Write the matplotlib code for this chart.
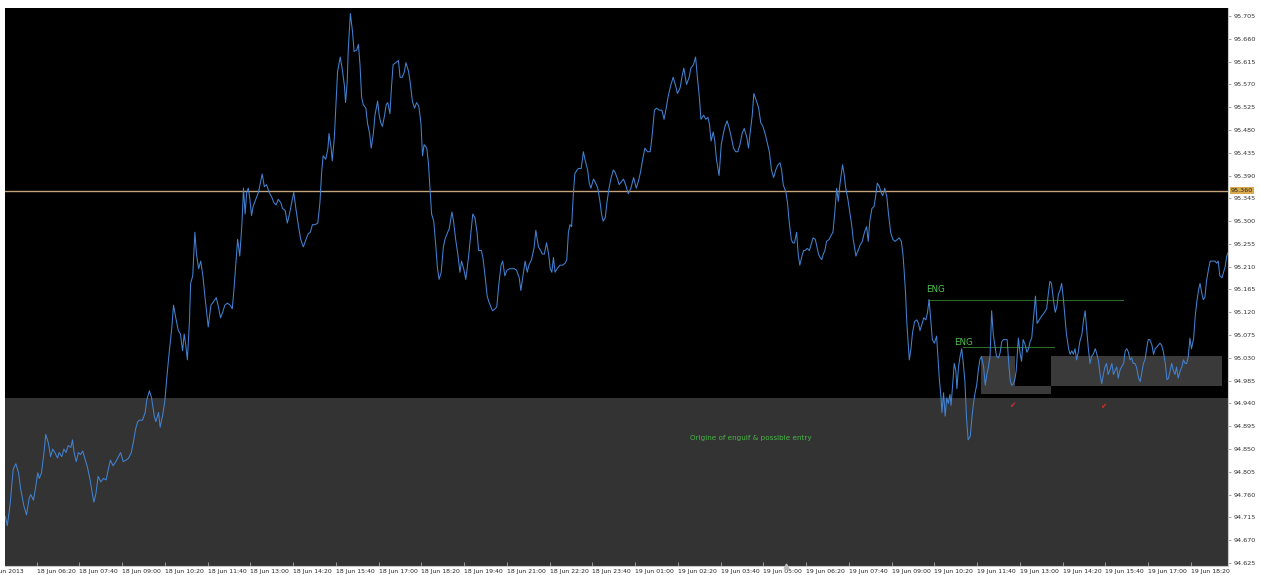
import matplotlib
matplotlib.use("Agg")
import matplotlib.pyplot as plt
import matplotlib.transforms as mtransforms
from matplotlib.patches import Rectangle

# ---- price series (minutes since 18 Jun 06:20, price) ----
seg_18jun_morning = [(-59,94.717),(-55,94.699),(-50,94.738),(-44,94.810),(-39,94.821),(-34,94.803),(-30,94.771),(-24,94.738),(-19,94.720),(-14,94.753),(-11,94.760),(-6,94.749),(-1,94.781),(2,94.803),(5,94.792),(9,94.803),(14,94.846),(17,94.879),(22,94.861),(26,94.835),(30,94.850),(34,94.843),(39,94.832),(42,94.843),(47,94.835),(51,94.850),(55,94.843),(59,94.857),(64,94.853),(67,94.868),(70,94.843),(74,94.825),(78,94.843),(82,94.839),(86,94.846),(90,94.832),(95,94.814),(100,94.789),(104,94.763),(107,94.745),(111,94.763),(115,94.796),(120,94.785),(125,94.792),(130,94.789),(134,94.810),(138,94.828),(143,94.817),(148,94.825),(153,94.835),(157,94.843),(162,94.825),(167,94.828),(172,94.832),(177,94.843),(181,94.864),(185,94.889),(189,94.904),(193,94.907),(198,94.907),(203,94.922),(206,94.947),(211,94.965),(215,94.951),(220,94.915),(223,94.904),(228,94.922),(231,94.893),(236,94.918),(240,94.947),(244,94.997),(248,95.041),(253,95.091),(256,95.134),(261,95.105),(265,95.084),(269,95.077),(273,95.044),(276,95.077),(279,95.055),(282,95.026),(286,95.105),(288,95.177),(292,95.192),(296,95.278),(299,95.235),(303,95.206),(307,95.221),(311,95.192),(315,95.149),(318,95.120),(321,95.091),(326,95.134),(331,95.141),(336,95.149),(340,95.131),(344,95.109),(348,95.120),(352,95.134),(357,95.138),(362,95.134),(366,95.127),(369,95.163),(373,95.221),(376,95.264),(380,95.231),(384,95.293),(387,95.365),(390,95.314),(393,95.357),(396,95.365),(399,95.343),(402,95.311),(405,95.329),(410,95.343),(415,95.357),(418,95.372),(422,95.393),(426,95.368),(430,95.372),(435,95.357),(440,95.347),(444,95.336),(448,95.332),(452,95.343),(457,95.336),(460,95.325),(465,95.321),(469,95.296),(473,95.314),(477,95.336),(481,95.357),(485,95.325),(490,95.289),(494,95.264),(499,95.249),(504,95.264),(508,95.275)]

seg_18jun_afternoon = [(512,95.278),(516,95.293),(521,95.293),(526,95.296),(530,95.336),(533,95.393),(536,95.429),(541,95.422),(545,95.444),(547,95.473),(551,95.444),(553,95.419),(557,95.465),(560,95.530),(563,95.595),(568,95.624),(572,95.599),(576,95.566),(578,95.534),(581,95.573),(583,95.638),(587,95.710),(591,95.674),(594,95.635),(599,95.638),(602,95.649),(605,95.609),(608,95.545),(611,95.530),(616,95.523),(619,95.494),(623,95.473),(626,95.444),(630,95.473),(633,95.509),(638,95.537),(641,95.509),(644,95.494),(647,95.487),(651,95.509),(654,95.530),(657,95.534),(661,95.512),(664,95.566),(667,95.609),(672,95.613),(677,95.617),(680,95.584),(684,95.584),(688,95.595),(691,95.613),(696,95.595),(699,95.573),(703,95.537),(707,95.523),(711,95.534),(715,95.527),(719,95.494),(722,95.429),(725,95.451),(730,95.444),(733,95.415),(736,95.365),(739,95.314),(743,95.300),(747,95.249),(750,95.206),(753,95.185),(757,95.199),(761,95.249),(764,95.264),(769,95.278),(772,95.285),(777,95.318),(780,95.300),(784,95.264),(788,95.235),(792,95.199),(795,95.221),(799,95.206),(803,95.185),(808,95.228),(812,95.271),(816,95.314),(820,95.307),(824,95.278),(827,95.242),(832,95.242),(835,95.228),(839,95.192),(843,95.152),(846,95.141),(850,95.131),(853,95.123),(858,95.127),(861,95.131),(865,95.177),(869,95.213),(872,95.221),(876,95.192),(880,95.203),(885,95.206),(889,95.206),(894,95.206),(898,95.203),(903,95.188),(906,95.163),(910,95.192),(914,95.221),(918,95.199),(921,95.213),(926,95.224),(931,95.249),(934,95.282),(939,95.249),(943,95.242),(946,95.235),(950,95.235),(954,95.257),(958,95.235),(961,95.206),(964,95.199),(967,95.228),(970,95.199),(974,95.206),(979,95.213),(984,95.213),(989,95.217),(992,95.224),(995,95.278),(998,95.293),(1001,95.289),(1004,95.350),(1007,95.393),(1011,95.401),(1014,95.404),(1019,95.404),(1023,95.437),(1026,95.422),(1031,95.401),(1034,95.375),(1037,95.365),(1042,95.383),(1046,95.375),(1050,95.365),(1054,95.339),(1057,95.314),(1060,95.300),(1064,95.307),(1067,95.336),(1071,95.365),(1075,95.386),(1079,95.401)]

seg_19jun_night = [(1082,95.397),(1087,95.383),(1090,95.372),(1095,95.379),(1098,95.383),(1102,95.372),(1107,95.354),(1112,95.365),(1117,95.386),(1122,95.365),(1126,95.379),(1130,95.397),(1134,95.422),(1138,95.444),(1143,95.437),(1148,95.437),(1151,95.462),(1156,95.519),(1160,95.523),(1165,95.519),(1170,95.519),(1174,95.501),(1178,95.523),(1182,95.548),(1186,95.566),(1191,95.584),(1196,95.566),(1199,95.552),(1204,95.563),(1208,95.588),(1211,95.602),(1216,95.570),(1221,95.584),(1224,95.602),(1229,95.609),(1233,95.624),(1236,95.588),(1240,95.545),(1243,95.501),(1248,95.509),(1252,95.501),(1256,95.505),(1259,95.491),(1262,95.458),(1266,95.476),(1269,95.458),(1272,95.422),(1277,95.390),(1281,95.451),(1285,95.473),(1288,95.487),(1292,95.498),(1296,95.483),(1300,95.465),(1304,95.444),(1308,95.437),(1312,95.437),(1316,95.451),(1320,95.473),(1324,95.483),(1329,95.465),(1332,95.444),(1335,95.473),(1339,95.509),(1342,95.552),(1347,95.537),(1351,95.523),(1355,95.494),(1359,95.487),(1363,95.473),(1367,95.455),(1371,95.437),(1375,95.401),(1379,95.386),(1383,95.401),(1387,95.411),(1391,95.415),(1394,95.401),(1397,95.372),(1402,95.357),(1405,95.336),(1408,95.300),(1412,95.264),(1415,95.257),(1418,95.257),(1422,95.278),(1425,95.235),(1428,95.213),(1432,95.231),(1435,95.242),(1438,95.242),(1442,95.246),(1446,95.242),(1450,95.257),(1453,95.267),(1457,95.264),(1460,95.249),(1463,95.235),(1466,95.228),(1469,95.224),(1472,95.235),(1475,95.242),(1478,95.260),(1483,95.264),(1486,95.271),(1490,95.278),(1493,95.311),(1497,95.365),(1500,95.339),(1503,95.372),(1508,95.411),(1511,95.393),(1514,95.365),(1518,95.343),(1522,95.314),(1525,95.293),(1528,95.264),(1533,95.231),(1537,95.242),(1541,95.253),(1545,95.260),(1549,95.278),(1553,95.289),(1556,95.260),(1559,95.300),(1563,95.325),(1567,95.329),(1570,95.350),(1573,95.375),(1577,95.368),(1580,95.357),(1583,95.350),(1587,95.365),(1591,95.347),(1594,95.314),(1598,95.278),(1602,95.264),(1606,95.260),(1611,95.264),(1614,95.267),(1618,95.260),(1621,95.235),(1623,95.206),(1626,95.156),(1628,95.105),(1631,95.055),(1633,95.026),(1636,95.048),(1639,95.080),(1643,95.102),(1647,95.105),(1650,95.098)]

seg_19jun_day = [(1653,95.084),(1656,95.095),(1660,95.109),(1664,95.105),(1667,95.120),(1670,95.145),(1673,95.105),(1676,95.066),(1680,95.059),(1684,95.073),(1686,95.041),(1689,94.990),(1692,94.954),(1694,94.922),(1697,94.961),(1700,94.915),(1703,94.951),(1706,94.940),(1709,94.958),(1711,94.936),(1714,94.976),(1717,95.019),(1720,95.005),(1722,94.969),(1725,95.012),(1728,95.033),(1731,95.048),(1734,95.019),(1737,94.983),(1740,94.911),(1743,94.868),(1747,94.875),(1750,94.911),(1753,94.940),(1756,94.961),(1759,94.976),(1762,95.005),(1765,95.026),(1768,95.033),(1772,95.012),(1775,94.976),(1778,94.997),(1781,95.012),(1784,95.033),(1787,95.123),(1790,95.077),(1793,95.055),(1796,95.033),(1800,95.030),(1803,95.041),(1806,95.062),(1809,95.066),(1812,95.066),(1816,95.066),(1819,95.019),(1822,94.983),(1825,94.976),(1828,94.979),(1831,94.990),(1833,95.005),(1837,95.069),(1840,95.041),(1843,95.023),(1846,95.066),(1850,95.055),(1853,95.041),(1856,95.048),(1859,95.062),(1862,95.069),(1865,95.105),(1867,95.127),(1869,95.152),(1872,95.098),(1876,95.105),(1881,95.113),(1886,95.120),(1890,95.127),(1893,95.156),(1896,95.181),(1899,95.177),(1903,95.141),(1906,95.120),(1909,95.131),(1912,95.156),(1915,95.163),(1918,95.177),(1921,95.149),(1924,95.113),(1927,95.077),(1931,95.048),(1934,95.037),(1937,95.044),(1940,95.037),(1943,95.048),(1946,95.026),(1949,95.041),(1952,95.062),(1956,95.077),(1959,95.105),(1962,95.123),(1965,95.084),(1968,95.048),(1971,95.019),(1974,95.033),(1977,95.037),(1981,95.048),(1984,95.037),(1987,95.023),(1990,94.997),(1993,94.979),(1996,94.997),(1999,95.012),(2002,95.019),(2005,94.997),(2009,95.008),(2012,95.019),(2015,94.997),(2018,95.005),(2021,95.012),(2024,94.990),(2027,95.005),(2030,95.012),(2034,95.019),(2037,95.044),(2040,95.048),(2043,95.041),(2046,95.026),(2049,95.030),(2052,95.019),(2055,95.019),(2058,95.012),(2062,94.990),(2065,94.983),(2068,95.001),(2071,95.019),(2074,95.026),(2077,95.048),(2080,95.066),(2083,95.066),(2087,95.055),(2090,95.037),(2093,95.048),(2096,95.051),(2099,95.055),(2102,95.059),(2105,95.055),(2108,95.044),(2112,95.019),(2115,94.987),(2118,94.990),(2121,95.005),(2124,95.019),(2127,95.005),(2130,94.997),(2133,95.012),(2136,94.990),(2140,95.005),(2143,95.012),(2146,95.026),(2149,95.019),(2152,95.019),(2155,95.033),(2158,95.069),(2161,95.048),(2165,95.069),(2168,95.113),(2171,95.141),(2174,95.163),(2177,95.177),(2180,95.159),(2183,95.145),(2186,95.149),(2189,95.181),(2193,95.206),(2196,95.221),(2199,95.221),(2202,95.221),(2205,95.221),(2208,95.217),(2211,95.221),(2214,95.192),(2218,95.188),(2221,95.199),(2224,95.210),(2227,95.231),(2230,95.239)]

# ---- axis labels ----
time_tick_minutes = [0, 80, 160, 240, 320, 400, 480, 560, 640, 720, 800, 880, 960, 1040,
                     1120, 1200, 1280, 1360, 1440, 1520, 1600, 1680, 1760, 1840, 1920, 2000, 2080, 2160]
time_tick_labels = ["18 Jun 06:20", "18 Jun 07:40", "18 Jun 09:00", "18 Jun 10:20", "18 Jun 11:40",
                    "18 Jun 13:00", "18 Jun 14:20", "18 Jun 15:40", "18 Jun 17:00", "18 Jun 18:20",
                    "18 Jun 19:40", "18 Jun 21:00", "18 Jun 22:20", "18 Jun 23:40", "19 Jun 01:00",
                    "19 Jun 02:20", "19 Jun 03:40", "19 Jun 05:00", "19 Jun 06:20", "19 Jun 07:40",
                    "19 Jun 09:00", "19 Jun 10:20", "19 Jun 11:40", "19 Jun 13:00", "19 Jun 14:20",
                    "19 Jun 15:40", "19 Jun 17:00", "19 Jun 18:20"]
first_label_minute = -93
first_label_text = "18 Jun 2013"
price_ticks = [94.625, 94.670, 94.715, 94.760, 94.805, 94.850, 94.895, 94.940, 94.985, 95.030,
               95.075, 95.120, 95.165, 95.210, 95.255, 95.300, 95.345, 95.390, 95.435, 95.480,
               95.525, 95.570, 95.615, 95.660, 95.705]

# ---- annotations ----
level_price = 95.360
zone_top_price = 94.951
box1 = (1767, 1898, 94.9586, 95.0336)      # t0, t1, p0, p1 (grey)
box1_cut = (1831, 1898, 94.9744, 95.0336)  # black part inside box1
box2 = (1898, 2218, 94.9744, 95.0336)
eng_lines = [(1668, 2033, 95.144), (1733, 1903, 95.051)]
eng_labels = [(1665, 95.165, "ENG"), (1716, 95.061, "ENG")]
check_marks = [(1826, 94.936), (1996, 94.934)]
note_pos = (1222, 94.872)
note_text = "Origine of engulf & possible entry"
shift_marker_minute = 1403

t_min, t_max = -59.3, 2229.3
p_min, p_max = 94.619, 95.7208

W, H = 1261, 575
fig = plt.figure(figsize=(W / 100, H / 100), dpi=100, facecolor="white")
ax = fig.add_axes([5 / W, 9 / H, (1228 - 5) / W, (575 - 8 - 9) / H])
ax.set_facecolor("black")
ax.set_xlim(t_min, t_max)
ax.set_ylim(p_min, p_max)

ax.axhspan(p_min - 1, zone_top_price, facecolor="#333333", edgecolor="none", zorder=1)
ax.add_patch(Rectangle((box1[0], box1[2]), box1[1] - box1[0], box1[3] - box1[2],
                       facecolor="#3a3a3a", edgecolor="none", zorder=1.5))
ax.add_patch(Rectangle((box1_cut[0], box1_cut[2]), box1_cut[1] - box1_cut[0], box1_cut[3] - box1_cut[2],
                       facecolor="black", edgecolor="none", zorder=1.6))
ax.add_patch(Rectangle((box2[0], box2[2]), box2[1] - box2[0], box2[3] - box2[2],
                       facecolor="#3a3a3a", edgecolor="none", zorder=1.5))

ax.axhline(level_price, color="#c4a27c", lw=1.0, zorder=2)

for t0, t1, p in eng_lines:
    ax.plot([t0, t1], [p, p], color="#2a6a2a", lw=0.8, zorder=2.5)
for t, p, s in eng_labels:
    ax.text(t, p, s, color="#4fc24f", fontsize=6.3, ha="left", va="center", zorder=4)
for t, p in check_marks:
    ax.text(t, p, "\u2714", color="#d42a2a", fontsize=5.5, ha="center", va="center", zorder=4)
ax.text(note_pos[0], note_pos[1], note_text, color="#45b545", fontsize=5.2,
        ha="left", va="center", zorder=4)

all_pts = seg_18jun_morning + seg_18jun_afternoon + seg_19jun_night + seg_19jun_day
ts = [p[0] for p in all_pts]
ps = [p[1] for p in all_pts]
ax.plot(ts, ps, color="#4282d2", lw=0.75, zorder=3)

# axes styling
for side in ("left", "top"):
    ax.spines[side].set_visible(False)
for side in ("right", "bottom"):
    ax.spines[side].set_color("#c8c8c8")
    ax.spines[side].set_linewidth(0.8)

ax.yaxis.tick_right()
ax.set_yticks(price_ticks)
ax.set_yticklabels([f"{v:.3f}" for v in price_ticks])
ax.tick_params(axis="y", direction="out", length=2.5, width=0.6, color="#999999",
               labelsize=4.6, labelcolor="#333333", pad=1.5)
ax.set_xticks(time_tick_minutes)
ax.set_xticklabels(time_tick_labels)
ax.tick_params(axis="x", direction="in", length=3, width=0.6, color="#aaaaaa",
               labelsize=4.4, labelcolor="#222222", pad=2.0)
for lbl in ax.get_xticklabels():
    lbl.set_horizontalalignment("left")

xtrans = mtransforms.blended_transform_factory(ax.transData, ax.transAxes)
ax.text(first_label_minute, -0.006, first_label_text, transform=xtrans, fontsize=4.4,
        color="#222222", ha="left", va="top", clip_on=False)
ax.plot([shift_marker_minute], [p_min], marker="^", ms=3.5, color="#bbbbbb",
        clip_on=False, zorder=5)

ytrans = mtransforms.blended_transform_factory(ax.transAxes, ax.transData)
ax.text(1.002, level_price, f"{level_price:.3f}", transform=ytrans, fontsize=4.6,
        color="#222222", ha="left", va="center", clip_on=False, zorder=6,
        bbox=dict(facecolor="#d9a94e", edgecolor="none", pad=0.6))

fig.savefig("out.png", dpi=100, facecolor="white")
